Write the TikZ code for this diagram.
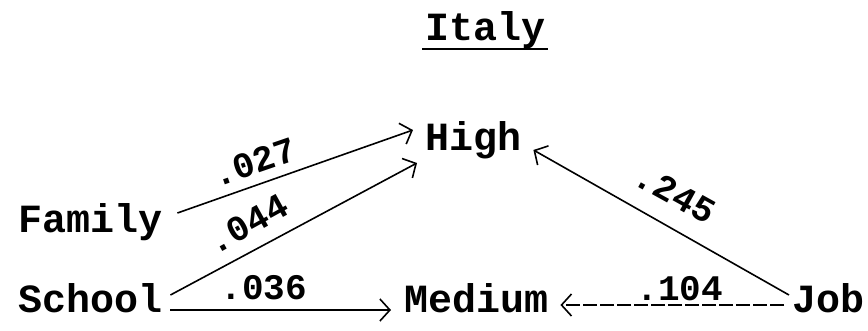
\documentclass[tikz,border=0pt]{standalone}
\usepackage{fontspec}
\setmonofont{Liberation Mono}
\usetikzlibrary{arrows.meta}
\tikzset{
  word/.style={font=\ttfamily\bfseries\fontsize{40}{40}\selectfont, inner sep=0pt, anchor=base west},
  coef/.style={font=\ttfamily\bfseries\fontsize{36}{36}\selectfont, inner sep=0pt},
  link/.style={line width=1.6pt, -{Straight Barb[length=10pt,width=22pt,line width=1.6pt]}},
}
\begin{document}
\begin{tikzpicture}[x=1pt,y=-1pt]
\useasboundingbox (0,0) rectangle (868,330);
\node[word] (title) at (425,40) {Italy};
\draw[line width=2.5pt] ([shift={(-3,9)}]title.base west) -- ([shift={(3,9)}]title.base east);
\node[word] (fam) at (18,232) {Family};
\node[word] (sch) at (18,312) {School};
\node[word] (high) at (425,150) {High};
\node[word] (med) at (404,312) {Medium};
\node[word] (job) at (792,312) {Job};
\draw[link] ([shift={(15,-19)}]fam.base east) -- ([shift={(-12,-20)}]high.base west);
\draw[link] ([shift={(8,-17)}]sch.base east) -- ([shift={(-8,13)}]high.base west);
\draw[link] ([shift={(8,-2)}]sch.base east) -- ([shift={(-13,-2)}]med.base west);
\draw[link] ([shift={(-3,-17)}]job.base west) -- ([shift={(12,0)}]high.base east);
\draw[link, dash pattern=on 14pt off 3pt] ([shift={(-8,-7)}]job.base west) -- ([shift={(12,-7)}]med.base east);
\node[coef, rotate=19] (c1) at (254,162) {.027};
\node[coef, rotate=29] (c2) at (248,224) {.044};
\node[coef] (c3) at (264,288) {.036};
\node[coef, rotate=-29] (c4) at (675,194) {.245};
\node[coef] (c5) at (680,289) {.104};
\end{tikzpicture}
\end{document}
